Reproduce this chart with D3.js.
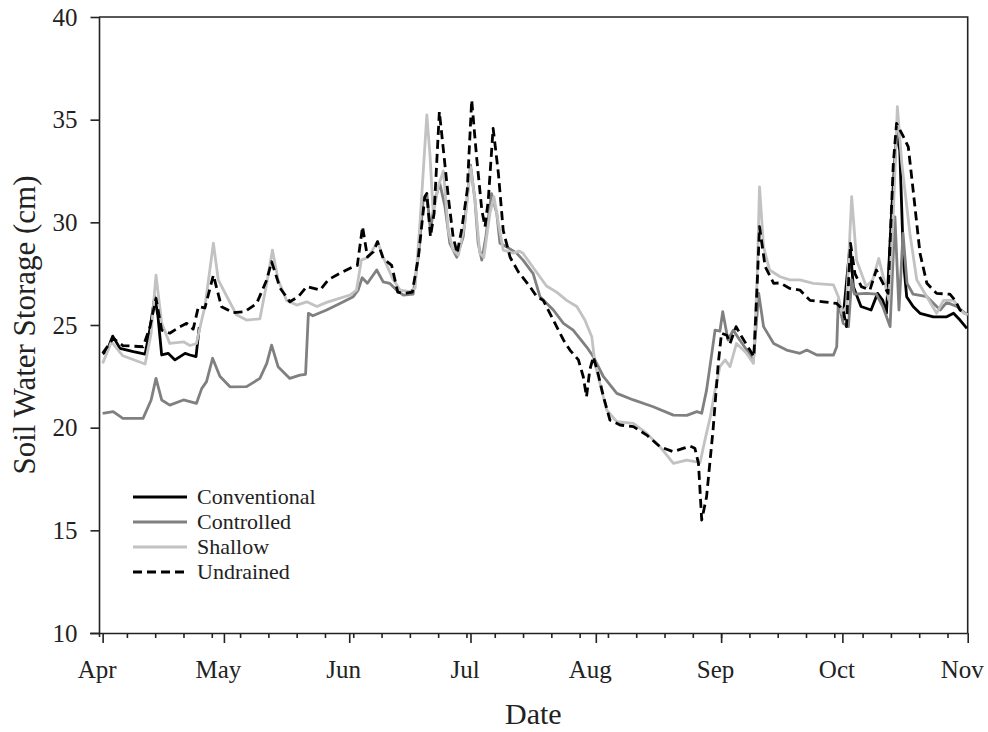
<!DOCTYPE html>
<html>
<head>
<meta charset="utf-8">
<script src="https://cdn.jsdelivr.net/npm/d3@7"></script>
<style>
  html, body { margin: 0; padding: 0; background: #fff; }
  svg { display: block; }
  text { font-family: "Liberation Serif", "Times New Roman", serif; fill: #222; }
</style>
</head>
<body>
<svg id="chart" width="988" height="732"></svg>
<script>
// ---------------- data (day offset from April 1, value in cm) ----------------
const seriesNames = ["Conventional", "Controlled", "Shallow", "Undrained"];
const monthLabels = ["Apr", "May", "Jun", "Jul", "Aug", "Sep", "Oct", "Nov"];
const yTickValues = [10, 15, 20, 25, 30, 35, 40];

const conventionalDays = [0, 1, 2.5, 4.3, 7.6, 10.5, 11.7, 12.9, 13.7, 14.6, 16.2, 17.9, 20.4, 21.6, 23.1, 23.9,
  24.5,
  182, 183.2, 184.9, 185.7, 187.6, 190.1, 191.7, 193, 193.9, 195.2, 196.4, 197.2, 198.1, 198.9, 200.5, 202.2,
  205.5, 208.8, 210.5, 212.1, 213.8];
const conventionalValues = [23.6, 23.7, 24.46, 23.86, 23.7, 23.58, 24.8, 26.38, 25.4, 23.54, 23.62, 23.3, 23.62, 23.54, 23.46, 24.9,
  null,
  26.0, 25.4, 28.9, 26.87, 25.9, 25.73, 26.54, 26.2, 25.57, 30.6, 34.33, 33.5, 28.16, 26.38, 25.9, 25.57,
  25.4, 25.4, 25.57, 25.24, 24.84];

const controlledDays = [0, 2.6, 5, 10, 12, 13.2, 14.6, 16.6, 20, 23.2, 24.5, 25.7, 27.2, 29, 31.5, 35.6, 38.9, 40.6,
  41.8, 43.4, 46.3, 48.8, 50.2, 50.9, 52, 55.4, 58.7, 62, 63.2, 64.2, 65.5, 67.8, 69.4, 71, 72.7, 74.4, 76.8,
  78.2, 79.3, 80.2, 81.1, 82.2, 83.4, 84.7, 85.9, 87.6, 89.2, 91, 92.1, 92.9, 93.8, 94.8, 96.2, 97.5, 98.3, 100,
  102.4, 104, 106.5, 108.2, 111.5, 114, 116.4, 119.7, 121.4, 123.9, 127.2, 131.3, 136.2, 141.2, 144.5, 147,
  148.2, 149.4, 150.7, 151.5, 152.7, 153.4, 154.7, 156, 157.6, 160, 161, 162.3, 163.5, 166, 169.2, 172.5,
  174.2, 176.7, 180.8, 181.6, 182, 183.2, 184.5, 185.3, 186, 188.9, 191.4, 193, 194.8, 196, 197, 198, 199,
  200.5, 203.9, 207.2, 208.8, 211.3, 213.4, 214];
const controlledValues = [20.7, 20.78, 20.45, 20.45, 21.35, 22.4, 21.35, 21.1, 21.35, 21.18, 21.9, 22.24, 23.38, 22.5,
  21.99, 22.0, 22.4, 23.13, 24.02, 22.97, 22.4, 22.56, 22.6, 25.57, 25.45, 25.73, 26.05, 26.38, 26.7, 27.3,
  27.03, 27.68, 27.1, 27.03, 26.7, 26.46, 26.5, 28.5, 31.09, 31.4, 29.6, 31.1, 31.9, 30.76, 28.98, 28.3, 29.3,
  32.79, 31.1, 28.98, 28.16, 29.3, 31.4, 30.44, 28.98, 28.8, 28.5, 28.16, 27.5, 26.38, 25.73, 25.08, 24.75,
  23.94, 23.45, 22.48, 21.67, 21.35, 21.02, 20.61, 20.6, 20.78, 20.7, 21.83, 23.62, 24.75, 24.7, 25.65, 24.27,
  24.75, 24.27, 23.6, 23.3, 26.54, 24.92, 24.1, 23.78, 23.62, 23.78, 23.54, 23.54, 23.94, 26.2, 25.08, 24.92,
  27.2, 26.5, 26.54, 26.5, 25.9, 24.92, 30.27, 25.73, 29.46, 27.03, 26.5, 26.38, 25.73, 26.1, 25.9, 25.57, 25.5];

const shallowDays = [0, 2.2, 5, 10.5, 12, 13.2, 14.6, 16.6, 20, 21.6, 23.2, 24.5, 25.3, 27.4, 28.6, 30.7, 33.1, 35.6,
  38.9, 40.6, 42, 43.4, 45.5, 48, 50.5, 53, 55.4, 57, 61.2, 62.8, 64, 65.7, 68, 69.4, 71.9, 73.6, 76, 77.3,
  78.5, 80.2, 81, 81.8, 83, 84.3, 85.5, 86.7, 88, 89.6, 91, 92.1, 93.3, 94.3, 95.8, 96.8, 97.9, 99.1, 101.6,
  103, 104, 106.5, 109.8, 112.3, 114.8, 117.3, 119.3, 121, 121.8, 122.6, 124.7, 127.2, 131.3, 134.6, 137.9,
  141.2, 144.5, 147.8, 149, 150.3, 151.5, 152.7, 154, 155.2, 156.8, 159.3, 161, 161.9, 162.5, 163.5, 165,
  167.6, 170, 172.5, 175.8, 180.8, 182, 182.9, 184, 185.3, 186.5, 188.9, 190.5, 192, 193.3, 194.5, 195.6,
  196.6, 197.7, 199.7, 201.4, 203.9, 206.3, 208, 210.5, 213, 214];
const shallowValues = [23.13, 24.18, 23.5, 23.1, 24.6, 27.43, 25.1, 24.1, 24.18, 24.0, 24.1, 25.24, 25.9, 28.98, 27.2,
  26.4, 25.5, 25.24, 25.3, 27.03, 28.65, 27.2, 26.2, 25.97, 26.13, 25.9, 26.1, 26.2, 26.46, 26.7, 28.16, 28.3,
  29.06, 28.3, 27.2, 26.7, 26.62, 26.8, 29.95, 35.23, 33.2, 30.4, 31.73, 32.5, 29.6, 28.65, 28.4, 29.95, 32.7,
  31.1, 28.49, 28.3, 30.44, 31.25, 29.95, 28.65, 28.5, 28.6, 28.49, 27.8, 26.9, 26.6, 26.2, 25.9, 25.24, 24.43,
  23.13, 22.48, 20.86, 20.29, 20.21, 19.72, 19.07, 18.26, 18.42, 18.3, 19.4, 20.5, 21.83, 22.97, 23.3, 22.97,
  24.1, 23.62, 23.13, 27.2, 31.73, 28.8, 27.68, 27.35, 27.2, 27.2, 27.03, 26.95, 26.38, 25.57, 25.9, 31.25,
  28.16, 26.87, 27.2, 28.24, 27.2, 26.2, 30.44, 35.63, 32.87, 29.46, 27.2, 26.38, 25.57, 26.2, 26.2, 25.57, 25.5];

const undrainedDays = [0, 2.6, 5, 10, 11.7, 13.2, 14.6, 16.6, 19, 20.8, 22.4, 23.7, 25.3, 27.4, 29.4, 32.3, 35.2, 38.1,
  40.6, 41.8, 43.9, 46.3, 48.4, 50.5, 53.8, 55.8, 58.7, 62, 63, 64.3, 65.5, 67, 68, 69.4, 71.5, 73, 74.4, 76.6,
  78.1, 79.7, 80.2, 81.1, 82, 83.3, 84.3, 85.5, 86.7, 87.7, 88.8, 90.2, 91.3, 92.5, 93.8, 94.6, 95.4, 96.6,
  97.9, 99.1, 100.8, 102.8, 105.7, 107.4, 109, 111.5, 114, 115.6, 117.7, 118.9, 119.7, 120.5, 121.4, 122.6,
  123.9, 125.5, 128, 131.3, 134.6, 137.9, 141.2, 143.6, 145.3, 146.5, 147.4, 148.2, 149.4, 151, 152.3, 153.1,
  154.4, 155.2, 156.7, 158.1, 160.1, 161.1, 161.9, 162.5, 163.9, 166, 167.6, 170, 172.5, 175, 178.3, 181.6,
  183.2, 184, 185, 186.1, 187.7, 189.8, 191.4, 192.6, 194.3, 195.6, 196.4, 198.1, 199.3, 200.5, 202.2, 203.9,
  206.3, 209.6, 210.9, 212.1, 213.4];
const undrainedValues = [23.62, 24.35, 24.0, 23.94, 24.9, 26.3, 24.75, 24.6, 24.9, 25.08, 24.8, 25.9, 25.83, 27.43,
  25.89, 25.6, 25.65, 26.05, 27.2, 28.08, 26.8, 26.13, 26.38, 26.87, 26.7, 27.2, 27.52, 27.84, 27.9, 29.79,
  28.32, 28.57, 29.06, 28.24, 27.9, 26.6, 26.54, 26.6, 28.3, 31.25, 31.4, 29.3, 30.44, 35.39, 33.52, 31.25,
  29.3, 28.49, 29.62, 31.57, 35.96, 33.2, 30.6, 29.79, 31.09, 34.58, 32.39, 29.6, 28.3, 27.6, 26.87, 26.38,
  26.2, 25.24, 24.27, 23.78, 23.3, 22.48, 21.5, 22.8, 23.45, 22.6, 21.5, 20.37, 20.13, 20.05, 19.64, 19.07,
  18.83, 18.99, 19.1, 19.0, 18.26, 15.5, 16.63, 19.88, 23.13, 24.6, 24.5, 24.1, 24.92, 24.43, 23.78, 23.45,
  26.87, 29.79, 27.84, 27.03, 27.05, 26.78, 26.7, 26.2, 26.13, 26.05, 25.73, 24.92, 28.98, 27.5, 26.87, 26.7,
  27.68, 27.2, 26.54, 32.87, 34.82, 34.17, 33.68, 31.57, 28.49, 27.03, 26.54, 26.5, 26.2, 25.73, 25.57];

// ---------------- layout ----------------
const svg = d3.select("#chart");
const DAY = 86400000;
const startMs = Date.UTC(2013, 3, 1);
const toDate = d => new Date(startMs + d * DAY);
const plotLeft = 99, plotRight = 967.7, plotTop = 17, plotBottom = 633;

const x = d3.scaleUtc()
  .domain([new Date(startMs - 0.9 * DAY), new Date(Date.UTC(2013, 10, 1))])
  .range([plotLeft, plotRight]);
const y = d3.scaleLinear().domain([10, 40]).range([plotBottom, plotTop]);

const monthTicks = monthLabels.map((m, i) => new Date(Date.UTC(2013, 3 + i, 1)));
const weekTicks = d3.range(6, 214, 7).map(toDate);

// frame (top and right)
svg.append("path")
  .attr("d", `M${plotLeft},${plotTop}H${plotRight}V${plotBottom}`)
  .attr("fill", "none").attr("stroke", "#222").attr("stroke-width", 1.6);

// minor x ticks
const gMinor = svg.append("g").attr("transform", `translate(0,${plotBottom})`)
  .call(d3.axisBottom(x).tickValues(weekTicks).tickSize(5).tickFormat(""));
gMinor.select(".domain").remove();
gMinor.selectAll("line").attr("stroke", "#222").attr("stroke-width", 1.6);

// major x axis
const gx = svg.append("g").attr("transform", `translate(0,${plotBottom})`)
  .call(d3.axisBottom(x).tickValues(monthTicks).tickSize(10).tickPadding(17)
    .tickFormat((d, i) => monthLabels[i]));
gx.select(".domain").attr("stroke", "#222").attr("stroke-width", 1.6)
  .attr("d", `M${plotLeft - 9},0.5H${plotRight}`);
gx.selectAll("line").attr("stroke", "#222").attr("stroke-width", 1.6);
gx.selectAll("text").attr("font-size", 25).attr("font-family", "Liberation Serif")
  .attr("fill", "#222").attr("dx", -6);

// y axis
const gy = svg.append("g").attr("transform", `translate(${plotLeft},0)`)
  .call(d3.axisLeft(y).tickValues(yTickValues).tickSize(8.5).tickPadding(13));
gy.select(".domain").attr("stroke", "#222").attr("stroke-width", 1.6)
  .attr("d", `M0.5,${plotTop}V${plotBottom + 4}`);
gy.selectAll("line").attr("stroke", "#222").attr("stroke-width", 1.6);
gy.selectAll("text").attr("font-size", 25).attr("font-family", "Liberation Serif").attr("fill", "#222");

// axis titles
svg.append("text").attr("x", (plotLeft + plotRight) / 2).attr("y", 724)
  .attr("text-anchor", "middle").attr("font-size", 30).text("Date");
svg.append("text")
  .attr("transform", `translate(35,${(plotTop + plotBottom) / 2}) rotate(-90)`)
  .attr("text-anchor", "middle").attr("font-size", 31).text("Soil Water Storage (cm)");

// ---------------- series ----------------
const styles = {
  Conventional: { color: "#000000", dash: null },
  Controlled: { color: "#808080", dash: null },
  Shallow: { color: "#c2c2c2", dash: null },
  Undrained: { color: "#000000", dash: "9,5" }
};
const seriesData = {
  Conventional: conventionalDays.map((d, i) => ({ d, v: conventionalValues[i] })),
  Controlled: controlledDays.map((d, i) => ({ d, v: controlledValues[i] })),
  Shallow: shallowDays.map((d, i) => ({ d, v: shallowValues[i] })),
  Undrained: undrainedDays.map((d, i) => ({ d, v: undrainedValues[i] }))
};
const line = d3.line()
  .defined(p => p.v != null)
  .x(p => x(toDate(p.d)))
  .y(p => y(p.v));

seriesNames.forEach(name => {
  svg.append("path")
    .datum(seriesData[name])
    .attr("d", line)
    .attr("fill", "none")
    .attr("stroke", styles[name].color)
    .attr("stroke-width", 2.8)
    .attr("stroke-linejoin", "round")
    .attr("stroke-dasharray", styles[name].dash);
});

// ---------------- legend ----------------
const legend = svg.append("g");
seriesNames.forEach((name, i) => {
  const ly = 497 + i * 25;
  legend.append("line")
    .attr("x1", 133).attr("x2", 187).attr("y1", ly).attr("y2", ly)
    .attr("stroke", styles[name].color).attr("stroke-width", 2.8)
    .attr("stroke-dasharray", styles[name].dash);
  legend.append("text")
    .attr("x", 197).attr("y", ly + 7)
    .attr("font-size", 22).text(name);
});
</script>
</body>
</html>
